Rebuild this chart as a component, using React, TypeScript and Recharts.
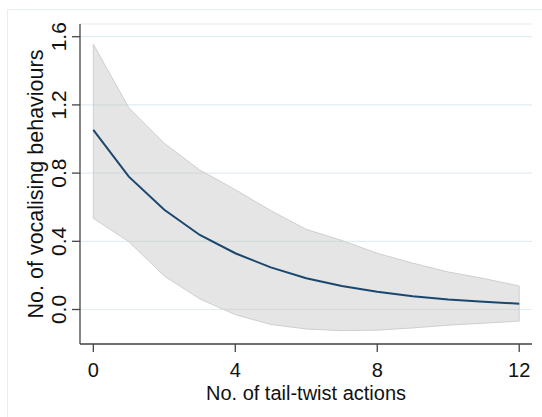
import React from 'react';
import { ComposedChart, Area, Line, XAxis, YAxis, CartesianGrid, ReferenceLine, Label } from 'recharts';

const tailTwists = [0, 1, 2, 3, 4, 5, 6, 7, 8, 9, 10, 11, 12];
const meanVocal = [1.053, 0.779, 0.585, 0.437, 0.33, 0.247, 0.183, 0.138, 0.104, 0.078, 0.059, 0.045, 0.034];
const upperCI = [1.556, 1.184, 0.975, 0.818, 0.703, 0.58, 0.47, 0.405, 0.33, 0.272, 0.22, 0.182, 0.138];
const lowerCI = [0.535, 0.398, 0.196, 0.062, -0.03, -0.088, -0.114, -0.124, -0.121, -0.108, -0.092, -0.08, -0.068];
const xTicks = [0, 4, 8, 12];
const yTicks = [0, 0.4, 0.8, 1.2, 1.6];

const data = tailTwists.map((x, i) => ({ x, mean: meanVocal[i], band: [lowerCI[i], upperCI[i]] }));

const FONT = '"Liberation Sans", Arial, sans-serif';
const last = tailTwists.length - 1;

const YTick = (props: any) => {
  const { x, y, payload } = props;
  return (
    <text x={x} y={y} transform={`rotate(-90, ${x}, ${y})`} textAnchor="middle" fontFamily={FONT} fontSize={21} fill="#111">
      {Number(payload.value).toFixed(1)}
    </text>
  );
};

export default function App() {
  return (
    <div style={{ position: 'absolute', left: 0, top: 0, width: 542, height: 417, overflow: 'hidden', background: '#fff' }}>
      <div style={{ position: 'absolute', left: 7, top: 9, width: 600, height: 500, borderLeft: '1px solid #e6eef2', borderTop: '1px solid #e6eef2' }} />
      <div style={{ position: 'absolute', left: 0, top: 0 }}>
        <ComposedChart width={542} height={417} data={data} margin={{ top: 24, right: 10, bottom: 23, left: 0 }}>
          <CartesianGrid vertical={false} stroke="#e3ecf0" strokeWidth={1.2} />
          <XAxis
            dataKey="x"
            type="number"
            domain={[-0.375, 12.36]}
            ticks={xTicks}
            allowDataOverflow
            height={50}
            tickSize={8}
            tickMargin={11}
            stroke="#444"
            strokeWidth={1.3}
            tick={{ fontFamily: FONT, fontSize: 20, fill: '#111' }}
          >
            <Label
              content={(p: any) => {
                const vb = p.viewBox;
                return (
                  <text x={vb.x + vb.width / 2} y={400} textAnchor="middle" fontFamily={FONT} fontSize={20} fill="#111">
                    No. of tail-twist actions
                  </text>
                );
              }}
            />
          </XAxis>
          <YAxis
            type="number"
            domain={[-0.2023, 1.6745]}
            ticks={yTicks}
            allowDataOverflow
            width={80}
            tickSize={8}
            tickMargin={6}
            stroke="#444"
            strokeWidth={1.3}
            tick={<YTick />}
          >
            <Label
              content={(p: any) => {
                const vb = p.viewBox;
                const cy = vb.y + vb.height / 2;
                return (
                  <text x={43} y={cy} transform={`rotate(-90, 43, ${cy})`} textAnchor="middle" fontFamily={FONT} fontSize={21.5} fill="#111">
                    No. of vocalising behaviours
                  </text>
                );
              }}
            />
          </YAxis>
          <Area
            dataKey="band"
            type="linear"
            fill="#bfbfbf"
            fillOpacity={0.4}
            stroke="#cfcfcf"
            strokeWidth={1}
            isAnimationActive={false}
            dot={false}
            activeDot={false}
          />
          <ReferenceLine
            segment={[{ x: tailTwists[0], y: lowerCI[0] }, { x: tailTwists[0], y: upperCI[0] }]}
            stroke="#cfcfcf"
            strokeWidth={1}
            ifOverflow="visible"
          />
          <ReferenceLine
            segment={[{ x: tailTwists[last], y: lowerCI[last] }, { x: tailTwists[last], y: upperCI[last] }]}
            stroke="#cfcfcf"
            strokeWidth={1}
            ifOverflow="visible"
          />
          <Line
            dataKey="mean"
            type="linear"
            stroke="#1a476f"
            strokeWidth={2}
            dot={false}
            activeDot={false}
            isAnimationActive={false}
          />
        </ComposedChart>
      </div>
    </div>
  );
}
